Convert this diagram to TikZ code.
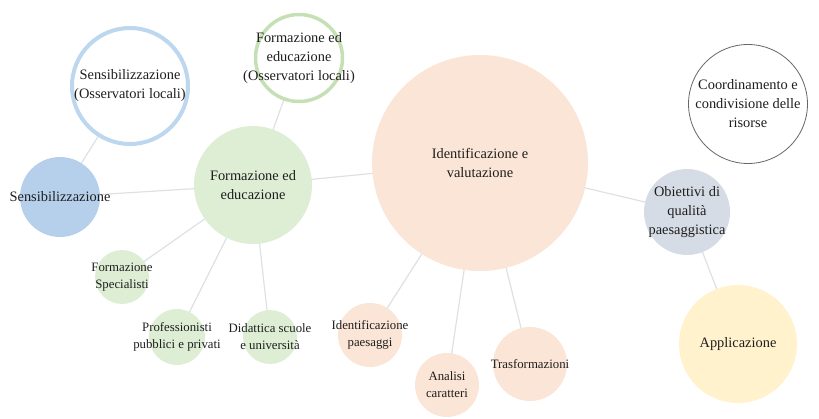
\documentclass[tikz,border=0pt]{standalone}
\usepackage{fontspec}
\setmainfont{Liberation Serif}
\usetikzlibrary{backgrounds}
\definecolor{verde}{RGB}{222,238,212}
\definecolor{verdebordo}{RGB}{197,224,180}
\definecolor{azzurro}{RGB}{189,215,238}
\definecolor{azzurroscuro}{RGB}{182,208,236}
\definecolor{pesca}{RGB}{251,229,214}
\definecolor{grigioblu}{RGB}{214,220,229}
\definecolor{giallo}{RGB}{255,242,204}
\definecolor{linea}{RGB}{222,224,229}
\definecolor{testo}{RGB}{30,30,30}
\tikzset{
	bolla/.style={circle,inner sep=0pt,draw=none},
	grande/.style={text=testo,align=center,inner sep=0pt,font=\fontsize{14.4}{19}\selectfont},
	piccolo/.style={text=testo,align=center,inner sep=0pt,font=\fontsize{12.8}{17}\selectfont},
	ramo/.style={draw=linea,line width=1.2pt}
}
\begin{document}
\begin{tikzpicture}[x=1pt,y=-1pt]
\useasboundingbox (0,0) rectangle (819,419);
\foreach \n/\x/\y/\r/\c in {sens/60/197/40/azzurroscuro,form/253/185/59/verde,ide/480/163/108/pesca,obi/687/212/43/grigioblu,app/738/344/59/giallo,spec/122/277/27/verde,prof/177/337/28/verde,did/270/337/27/verde,pae/370/335/32/pesca,ana/447/385/32/pesca,tra/530/364/37/pesca} {
	\node[bolla,fill=\c,minimum size=2*\r] (\n) at (\x,\y) {};
}
\node[bolla,fill=white,draw=azzurro,line width=4pt,minimum size=116] (sensoss) at (130,86) {};
\node[bolla,fill=white,draw=verdebordo,line width=3.5pt,minimum size=87] (formoss) at (299,58) {};
\node[bolla,fill=white,draw=black!60,line width=0.8pt,minimum size=119] (coord) at (748,104) {};
\begin{scope}[on background layer]
\foreach \a/\b in {sensoss/sens,sens/form,formoss/form,form/ide,form/spec,form/prof,form/did,ide/pae,ide/ana,ide/tra,ide/obi,obi/app}
	\draw[ramo] (\a.center) -- (\b.center);
\end{scope}
\foreach \n/\t in {sens/Sensibilizzazione,form/{Formazione ed\\educazione},ide/{Identificazione e\\valutazione},obi/{Obiettivi di\\qualità\\paesaggistica},app/Applicazione,sensoss/{Sensibilizzazione\\(Osservatori locali)},formoss/{Formazione ed\\educazione\\(Osservatori locali)},coord/{Coordinamento e\\condivisione delle\\risorse}} {
	\node[grande] (t-\n) at (\n) {\t};
}
\foreach \n/\t in {spec/{Formazione\\Specialisti},prof/{Professionisti\\pubblici e privati},did/{Didattica scuole\\e università},pae/{Identificazione\\paesaggi},ana/{Analisi\\caratteri},tra/Trasformazioni} {
	\node[piccolo] (t-\n) at (\n) {\t};
}
\end{tikzpicture}
\end{document}
